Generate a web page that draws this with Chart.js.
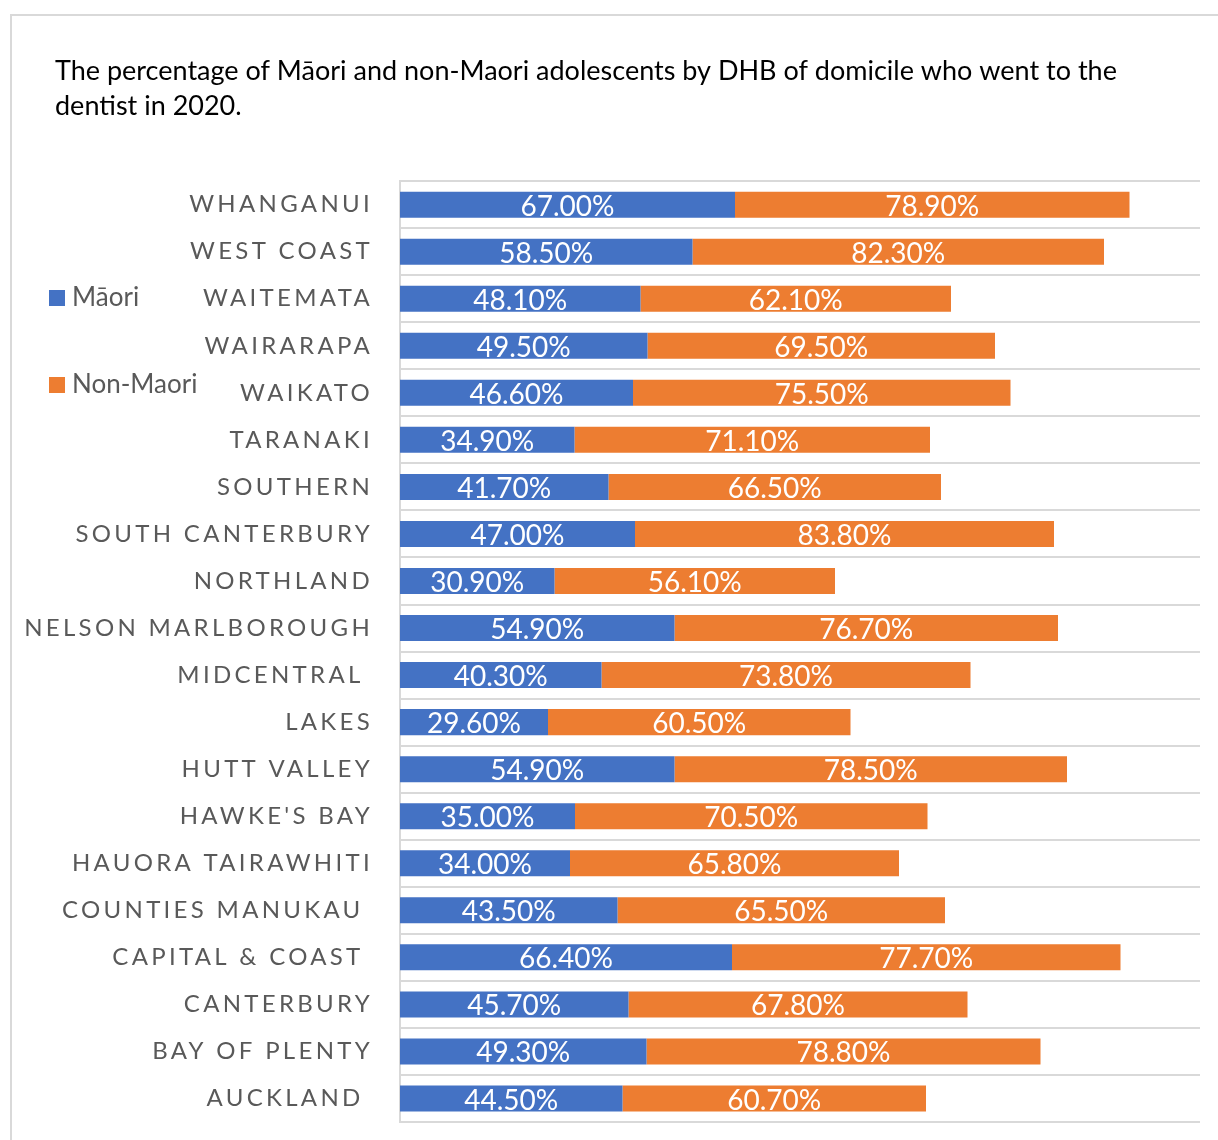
<!DOCTYPE html>
<html>
<head>
<meta charset="utf-8">
<script src="https://cdn.jsdelivr.net/npm/chart.js@4.4.0/dist/chart.umd.min.js"></script>
<style>
  body { margin: 0; background: #fff; overflow: hidden; }
  #frame { position: absolute; left: 10px; top: 14px; width: 1400px; height: 1400px; border: 2px solid #d9d9d9; }
  #chart { position: absolute; left: 0; top: 0; }
</style>
</head>
<body>
<div id="frame"></div>
<canvas id="chart" width="1218" height="1140"></canvas>
<script>
// DHB names, top to bottom (some carry a trailing space, as in the source sheet)
const dhbs = ['WHANGANUI', 'WEST COAST', 'WAITEMATA', 'WAIRARAPA', 'WAIKATO', 'TARANAKI',
  'SOUTHERN', 'SOUTH CANTERBURY', 'NORTHLAND', 'NELSON MARLBOROUGH', 'MIDCENTRAL ', 'LAKES',
  'HUTT VALLEY', "HAWKE'S BAY", 'HAUORA TAIRAWHITI', 'COUNTIES MANUKAU ', 'CAPITAL & COAST ',
  'CANTERBURY', 'BAY OF PLENTY', 'AUCKLAND '];

// % of adolescents who went to the dentist in 2020
const maori    = [67.0, 58.5, 48.1, 49.5, 46.6, 34.9, 41.7, 47.0, 30.9, 54.9, 40.3, 29.6, 54.9, 35.0, 34.0, 43.5, 66.4, 45.7, 49.3, 44.5];
const nonMaori = [78.9, 82.3, 62.1, 69.5, 75.5, 71.1, 66.5, 83.8, 56.1, 76.7, 73.8, 60.5, 78.5, 70.5, 65.8, 65.5, 77.7, 67.8, 78.8, 60.7];

const seriesNames = ['Māori', 'Non-Maori'];
const titleLines = [
  'The percentage of Māori and non-Maori adolescents by DHB of domicile who went to the',
  'dentist in 2020.'
];

const FONT = 'Lato, "Open Sans", sans-serif';
const LETTER_SPACING = 3.3;

// spaced-out category labels: ticks are drawn after the bars (z: 1),
// so switch letter spacing on just before them and off again after
const spacing = {
  id: 'spacing',
  afterLayout(chart) {
    // title text starts indented, not at the canvas edge
    chart.titleBlock.left = 55;
  },
  afterDatasetsDraw(chart) { chart.ctx.letterSpacing = LETTER_SPACING + 'px'; },
  afterDraw(chart) { chart.ctx.letterSpacing = '0px'; }
};

// white value labels centred in each segment
const valueLabels = {
  id: 'valueLabels',
  afterDraw(chart) {
    const ctx = chart.ctx;
    ctx.save();
    ctx.letterSpacing = '0px';
    ctx.fillStyle = '#fff';
    ctx.font = '28px ' + FONT;
    ctx.textAlign = 'center';
    ctx.textBaseline = 'middle';
    chart.data.datasets.forEach((ds, i) => {
      chart.getDatasetMeta(i).data.forEach((bar, j) => {
        const p = bar.getProps(['x', 'base', 'y'], true);
        ctx.fillText(ds.data[j].toFixed(2) + '%', (p.x + p.base) / 2, p.y + 2);
      });
    });
    ctx.restore();
  }
};

// legend sits in the label column, left of the axis
const sideLegend = {
  id: 'sideLegend',
  afterDraw(chart) {
    const ctx = chart.ctx;
    const rows = [298, 385];
    ctx.save();
    ctx.letterSpacing = '0px';
    ctx.font = '26px ' + FONT;
    ctx.textBaseline = 'middle';
    ctx.textAlign = 'left';
    chart.data.datasets.forEach((ds, i) => {
      ctx.fillStyle = ds.backgroundColor;
      ctx.fillRect(49, rows[i] - 8, 16, 16);
      ctx.fillStyle = '#595959';
      ctx.fillText(ds.label, 72, rows[i]);
    });
    ctx.restore();
  }
};

new Chart(document.getElementById('chart'), {
  type: 'bar',
  data: {
    labels: dhbs,
    datasets: [
      { label: seriesNames[0], data: maori, backgroundColor: '#4472C4' },
      { label: seriesNames[1], data: nonMaori, backgroundColor: '#ED7D31' }
    ]
  },
  options: {
    indexAxis: 'y',
    responsive: false,
    animation: false,
    datasets: { bar: { barPercentage: 1, categoryPercentage: 0.553 } },
    layout: { padding: { left: 0, right: 18, top: 0, bottom: 18 } },
    scales: {
      x: { stacked: true, min: 0, max: 160, display: false },
      y: {
        stacked: true,
        afterFit(scale) {
          scale.width = 400;
          scale.paddingTop = 0;
          scale.paddingBottom = 0;
        },
        grid: { color: '#d9d9d9', lineWidth: 2, drawTicks: false },
        border: { display: true, color: '#d9d9d9', width: 2 },
        ticks: { color: '#595959', font: { family: FONT, size: 24 }, padding: 27, z: 1 }
      }
    },
    plugins: {
      legend: { display: false },
      tooltip: { enabled: false },
      title: {
        display: true,
        text: titleLines,
        align: 'start',
        color: '#000',
        font: { family: FONT, size: 27, weight: 'normal', lineHeight: 1.28 },
        padding: { top: 54, bottom: 58 }
      }
    }
  },
  plugins: [spacing, valueLabels, sideLegend]
});
</script>
</body>
</html>
